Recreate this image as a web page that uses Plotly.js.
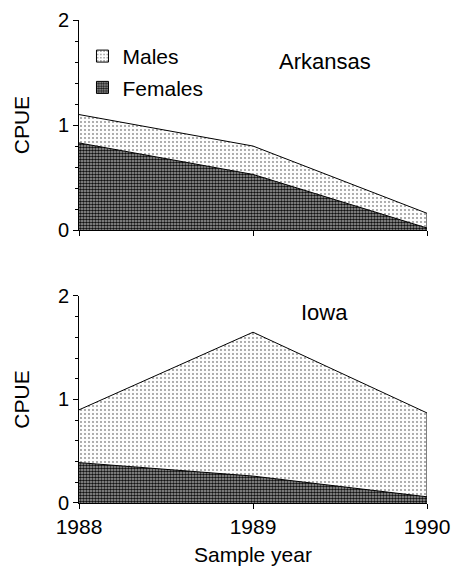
<!DOCTYPE html>
<html><head><meta charset="utf-8">
<script src="https://cdn.plot.ly/plotly-3.0.1.min.js"></script>
<style>body{margin:0;background:#fff}#c{width:453px;height:572px}</style>
</head><body><div id="c"></div>
<script>
const years = [1988, 1989, 1990];
const arkFemales = [0.83, 0.53, 0.02];
const arkMales = [0.27, 0.27, 0.14];
const iowaFemales = [0.39, 0.26, 0.06];
const iowaMales = [0.51, 1.39, 0.81];
const yTicks = [0, 1, 2];
const panelNames = ['Arkansas', 'Iowa'];
const seriesNames = ['Males', 'Females'];

const font = 'Liberation Sans, Arial, sans-serif';
const maleFill = {shape: '.', fgcolor: '#888', bgcolor: '#fdfdfd', size: 4, solidity: 0.16};
const femaleFill = {shape: '.', fgcolor: '#111', bgcolor: '#aaa', size: 3, solidity: 0.6};

function total(f, m) { return f.map((v, i) => v + m[i]); }

function panelTraces(fem, mal, xa, ya) {
  const tot = total(fem, mal);
  const last = years.length - 1;
  return [
    {x: years, y: tot, xaxis: xa, yaxis: ya, type: 'scatter', mode: 'lines', fill: 'tozeroy',
     fillpattern: maleFill, fillcolor: '#fdfdfd', line: {color: '#000', width: 1}, showlegend: false},
    {x: years, y: fem, xaxis: xa, yaxis: ya, type: 'scatter', mode: 'lines', fill: 'tozeroy',
     fillpattern: femaleFill, fillcolor: '#aaa', line: {color: '#000', width: 1}, showlegend: false},
    {x: [years[last], years[last]], y: [0, tot[last]], xaxis: xa, yaxis: ya, type: 'scatter', mode: 'lines',
     line: {color: '#000', width: 1}, showlegend: false, hoverinfo: 'skip'}
  ];
}

const legendTraces = [
  {x: [null], y: [null], type: 'bar', name: seriesNames[0], legendgroup: 'm', xaxis: 'x', yaxis: 'y',
   marker: {color: '#fdfdfd', pattern: maleFill, line: {color: '#000', width: 1}}},
  {x: [null], y: [null], type: 'bar', name: seriesNames[1], legendgroup: 'f', xaxis: 'x', yaxis: 'y',
   marker: {color: '#aaa', pattern: femaleFill, line: {color: '#000', width: 1}}}
];

const data = [].concat(
  panelTraces(arkFemales, arkMales, 'x', 'y'),
  panelTraces(iowaFemales, iowaMales, 'x2', 'y2'),
  legendTraces
);

const yBase = {range: [0, 2], tickvals: yTicks, ticks: 'outside', ticklen: 5, tickwidth: 1, tickcolor: '#000',
  showline: true, linecolor: '#000', linewidth: 1, showgrid: false, zeroline: false,
  tickfont: {family: font, size: 20, color: '#000'},
  minor: {dtick: 0.2, ticks: 'outside', ticklen: 3, tickcolor: '#000', showgrid: false},
  title: {text: 'CPUE', font: {family: font, size: 21, color: '#000'}, standoff: 22}};
const xBase = {range: [1988, 1990], tickvals: years, ticks: 'outside', ticklen: 5, tickwidth: 1, tickcolor: '#000',
  showline: true, linecolor: '#000', linewidth: 1, showgrid: false, zeroline: false,
  tickfont: {family: font, size: 21, color: '#000'}};

const layout = {
  width: 453, height: 572,
  margin: {l: 79, r: 26, t: 20, b: 69},
  paper_bgcolor: '#fff', plot_bgcolor: '#fff',
  font: {family: font, color: '#000'},
  showlegend: true,
  barmode: 'overlay',
  legend: {x: 0.01, y: 0.967, xanchor: 'left', yanchor: 'top', font: {family: font, size: 21, color: '#000'},
    bgcolor: 'rgba(0,0,0,0)', itemwidth: 30, tracegroupgap: 1, traceorder: 'grouped'},
  xaxis: Object.assign({}, xBase, {anchor: 'y', showticklabels: false}),
  yaxis: Object.assign({}, yBase, {domain: [0.565, 1], anchor: 'x'}),
  xaxis2: Object.assign({}, xBase, {anchor: 'y2', title: {text: 'Sample year', font: {family: font, size: 21, color: '#000'}, standoff: 10}}),
  yaxis2: Object.assign({}, yBase, {domain: [0, 0.4286], anchor: 'x2'}),
  annotations: [
    {text: panelNames[0], xref: 'paper', yref: 'paper', x: 0.707, y: 0.915, xanchor: 'center', yanchor: 'middle', showarrow: false, font: {family: font, size: 22, color: '#000'}},
    {text: panelNames[1], xref: 'paper', yref: 'paper', x: 0.705, y: 0.395, xanchor: 'center', yanchor: 'middle', showarrow: false, font: {family: font, size: 22, color: '#000'}}
  ]
};

Plotly.newPlot('c', data, layout, {displayModeBar: false, staticPlot: true});
</script></body></html>
